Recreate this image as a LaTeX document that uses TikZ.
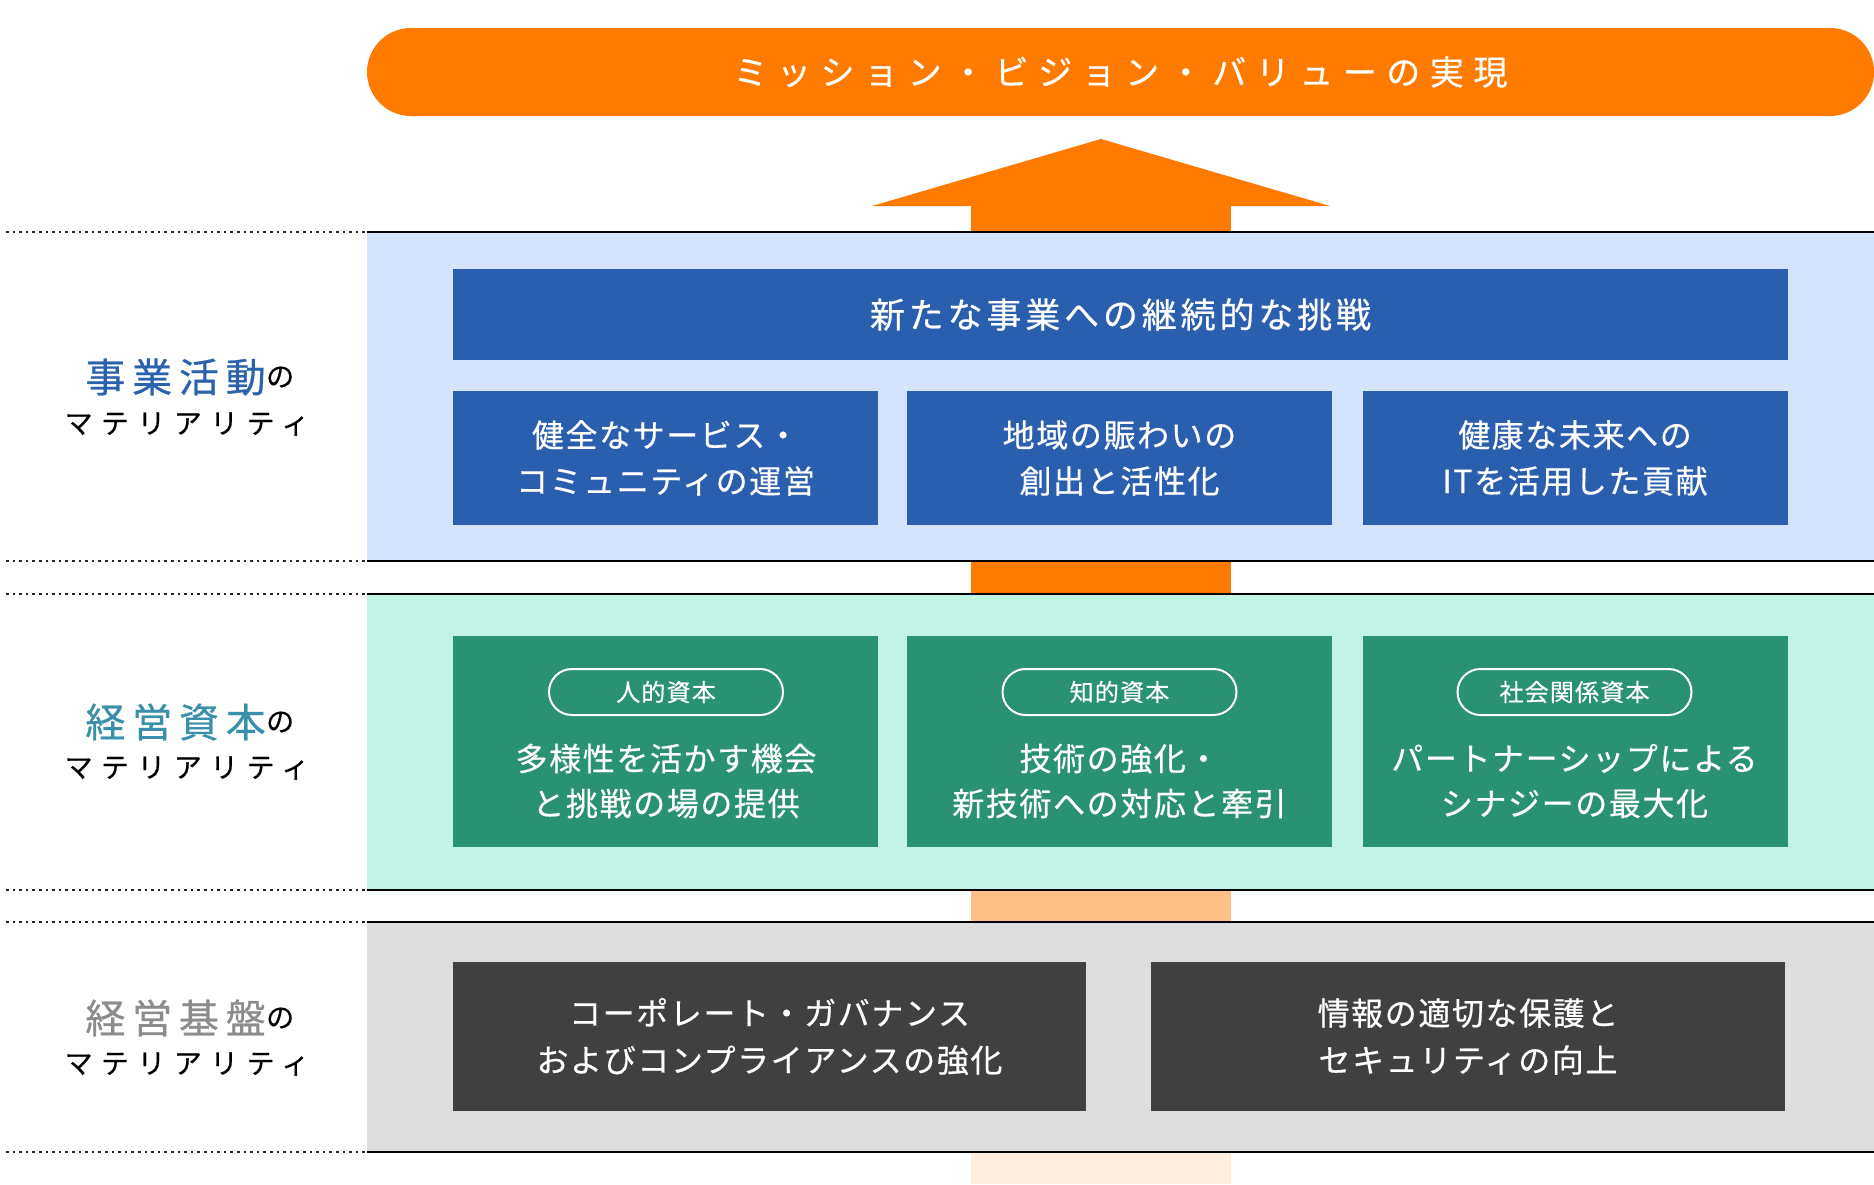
\documentclass[tikz,border=0pt]{standalone}
\usepackage{fontspec}
\setmainfont{Noto Sans CJK JP}[FakeBold=0.5]
\newfontfamily\jpTop[LetterSpace=28,FakeBold=0.5]{Noto Sans CJK JP}
\newfontfamily\jpHead[LetterSpace=11,FakeBold=0.5]{Noto Sans CJK JP}
\newfontfamily\jpBox[LetterSpace=5,FakeBold=0.5]{Noto Sans CJK JP}
\newfontfamily\jpTag[LetterSpace=5,FakeBold=0.5]{Noto Sans CJK JP}
\newfontfamily\jpBig[LetterSpace=17,FakeBold=0.6]{Noto Sans CJK JP}
\newfontfamily\jpKana[LetterSpace=30,FakeBold=0.5]{Noto Sans CJK JP}
\definecolor{orange}{HTML}{FF7B00}
\definecolor{lightorange}{HTML}{FFBF86}
\definecolor{paleorange}{HTML}{FFEDE0}
\definecolor{bandblue}{HTML}{D3E4FC}
\definecolor{dblue}{HTML}{2A5FAF}
\definecolor{bandgreen}{HTML}{C2F4E6}
\definecolor{dgreen}{HTML}{2A9173}
\definecolor{bandgray}{HTML}{DEDEDE}
\definecolor{dgray}{HTML}{404040}
\definecolor{lblblue}{HTML}{2B62AC}
\definecolor{lblteal}{HTML}{3A90AA}
\definecolor{lblgray}{HTML}{8C8C8C}
\begin{document}
\begin{tikzpicture}[x=1pt,y=-1pt,
  boxbase/.style={rectangle,inner sep=0pt,align=center,text=white},
  headbox/.style={boxbase,fill=dblue,minimum width=1335pt,minimum height=91pt,
    font=\jpHead\fontsize{35}{40}\selectfont},
  bluebox/.style={boxbase,fill=dblue,minimum width=425pt,minimum height=134pt,
    font=\jpBox\fontsize{32}{46}\selectfont},
  greenbox/.style={boxbase,fill=dgreen,minimum width=425pt,minimum height=211pt},
  graybox/.style={boxbase,fill=dgray,minimum width=633pt,minimum height=149pt,
    font=\jpBox\fontsize{32}{47}\selectfont},
  tag/.style={rectangle,rounded corners=23pt,draw=white,line width=2pt,text=white,
    minimum width=234pt,minimum height=46pt,inner sep=0pt,
    font=\jpTag\fontsize{24}{24}\selectfont},
  gtext/.style={text=white,align=center,inner sep=0pt,font=\jpBox\fontsize{32}{45}\selectfont},
  bigl/.style={inner sep=0pt,font=\jpBig\fontsize{40}{40}\selectfont},
  nol/.style={inner sep=0pt,font=\fontsize{28}{28}\selectfont},
  kanal/.style={inner sep=0pt,font=\jpKana\fontsize{28}{28}\selectfont},
  solidsep/.style={line width=2.4pt,black},
  dotsep/.style={line width=2pt,black!85,dash pattern=on 2.6pt off 4pt}]
\useasboundingbox (0,0) rectangle (1874,1184);
% top pill
\node[rectangle,fill=orange,rounded corners=44pt,minimum width=1507pt,minimum height=88pt,
  inner sep=0pt,text=white,font=\jpTop\fontsize{34}{34}\selectfont] (mvv) at (1120.5,72)
  {ミッション・ビジョン・バリューの実現};
% arrow head and shaft
\fill[orange] (872,206) -- (1101,139) -- (1330,206) -- cycle;
\fill[orange] (971,205) rectangle (1231,232);
\fill[orange] (971,561) rectangle (1231,594);
\fill[lightorange] (971,890) rectangle (1231,922);
\fill[paleorange] (971,1152) rectangle (1231,1184);
% bands
\fill[bandblue] (367,232) rectangle (1874,561);
\fill[bandgreen] (367,594) rectangle (1874,890);
\fill[bandgray] (367,922) rectangle (1874,1152);
% separator lines
\foreach \yy in {232,561,594,890,922,1152}{
  \draw[solidsep] (367,\yy) -- (1874,\yy);
  \draw[dotsep] (6,\yy) -- (367,\yy);
}
% business activities
\node[headbox] (challenge) at (1120.5,314.5) {新たな事業への継続的な挑戦};
\node[bluebox] (b1) at (665.5,458) {健全なサービス・\\コミュニティの運営};
\node[bluebox] (b2) at (1119.5,458) {地域の賑わいの\\創出と活性化};
\node[bluebox] (b3) at (1575,458) {健康な未来への\\ITを活用した貢献};
% management capital
\node[greenbox] (g1) at (665.5,741.5) {};
\node[greenbox] (g2) at (1119.5,741.5) {};
\node[greenbox] (g3) at (1575,741.5) {};
\node[tag] (t1) at (666,692) {人的資本};
\node[tag] (t2) at (1119.5,692) {知的資本};
\node[tag] (t3) at (1574.5,692) {社会関係資本};
\node[gtext] (gt1) at (666,781) {多様性を活かす機会\\と挑戦の場の提供};
\node[gtext] (gt2) at (1119.5,781) {技術の強化・\\新技術への対応と牽引};
\node[gtext] (gt3) at (1574.5,781) {パートナーシップによる\\シナジーの最大化};
% foundation
\node[graybox] (k1) at (769.5,1036.5) {コーポレート・ガバナンス\\およびコンプライアンスの強化};
\node[graybox,minimum width=634pt] (k2) at (1468,1036.5) {情報の適切な保護と\\セキュリティの向上};
% left labels
\node[bigl,text=lblblue,anchor=east] (l1a) at (266,377) {事業活動};
\node[nol,anchor=west] (l1b) at (l1a.east) {の};
\node[kanal] (l1c) at (187,424) {マテリアリティ};
\node[bigl,text=lblteal,anchor=east] (l2a) at (266,722) {経営資本};
\node[nol,anchor=west] (l2b) at (l2a.east) {の};
\node[kanal] (l2c) at (187,768) {マテリアリティ};
\node[bigl,text=lblgray,anchor=east] (l3a) at (266,1018) {経営基盤};
\node[nol,anchor=west] (l3b) at (l3a.east) {の};
\node[kanal] (l3c) at (187,1064) {マテリアリティ};
\end{tikzpicture}
\end{document}
